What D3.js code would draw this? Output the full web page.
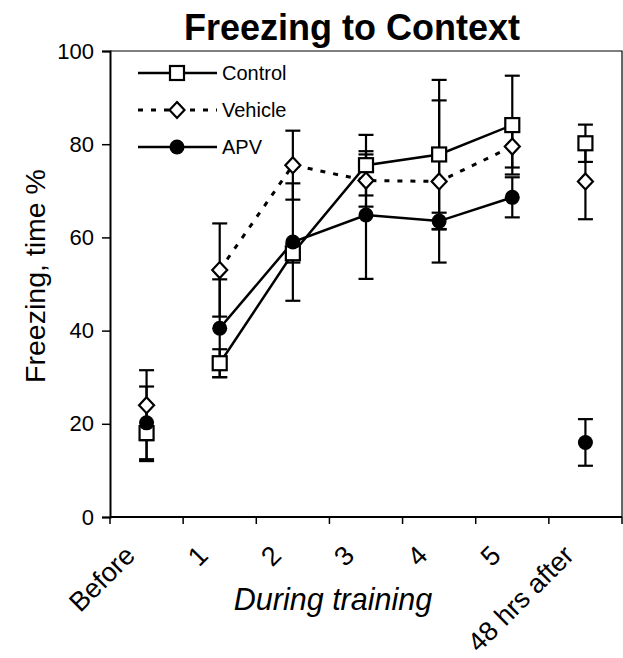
<!DOCTYPE html>
<html>
<head>
<meta charset="utf-8">
<script src="https://cdn.jsdelivr.net/npm/d3@7"></script>
<style>
  html, body { margin: 0; padding: 0; background: #fff; }
  svg text { font-family: "Liberation Sans", Arial, sans-serif; fill: #000; }
</style>
</head>
<body>
<svg id="chart" width="623" height="658"></svg>
<script>
const categories = ["Before", "1", "2", "3", "4", "5", "48 hrs after"];
const yTicks = [0, 20, 40, 60, 80, 100];

const controlMean = [18, 33, 56.6, 75.5, 77.8, 84.1, 80.2];
const controlErr = [6, 3, 2, 6.5, 16, 10.6, 4];
const vehicleMean = [24, 53, 75.5, 72.2, 72, 79.5, 72];
const vehicleErr = [7.5, 10, 7.4, 5.6, 17.4, 4.5, 8.1];
const apvMean = [20.2, 40.5, 59, 64.8, 63.5, 68.6, 16];
const apvErr = [7.8, 10.5, 12.6, 13.7, 1.8, 4.3, 5];

// only the training days are joined by lines
const trainingDays = ["1", "2", "3", "4", "5"];

const series = [
  { name: "Control", mean: controlMean, err: controlErr, symbol: "square", dash: null },
  { name: "Vehicle", mean: vehicleMean, err: vehicleErr, symbol: "diamond", dash: "5,8" },
  { name: "APV", mean: apvMean, err: apvErr, symbol: "circle", dash: null },
];

const svg = d3.select("#chart");
const margin = { top: 51, right: 1, bottom: 141, left: 110 };
const width = 623, height = 658;

const x = d3.scaleBand().domain(categories).range([margin.left, width - margin.right]);
const y = d3.scaleLinear().domain([0, 100]).range([height - margin.bottom, margin.top]);
const cx = (c) => x(c) + x.bandwidth() / 2;

// frame (top and right)
svg.append("path")
  .attr("d", `M${x.range()[0]},${y(100)}H${x.range()[1]}V${y(0)}`)
  .attr("fill", "none").attr("stroke", "#000").attr("stroke-width", 1.2);

// y axis
svg.append("g")
  .attr("transform", `translate(${margin.left},0)`)
  .call(d3.axisLeft(y).tickValues(yTicks).tickSize(8).tickPadding(8))
  .call((g) => g.select(".domain").attr("stroke-width", 2))
  .call((g) => g.selectAll(".tick line").attr("stroke-width", 1.5))
  .call((g) => g.selectAll("text").attr("font-size", 22).attr("font-family", "Liberation Sans, Arial, sans-serif"));

// x axis: ticks at category boundaries
const xAxis = svg.append("g").attr("transform", `translate(0,${y(0)})`);
xAxis.append("line")
  .attr("x1", x.range()[0]).attr("x2", x.range()[1])
  .attr("stroke", "#000").attr("stroke-width", 2);
const boundaries = categories.map((c) => x(c)).concat([x.range()[1]]);
xAxis.selectAll(".bt").data(boundaries).join("line")
  .attr("x1", (d) => d).attr("x2", (d) => d)
  .attr("y1", 0).attr("y2", 7)
  .attr("stroke", "#000").attr("stroke-width", 1.5);
xAxis.selectAll(".xl").data(categories).join("text")
  .attr("transform", (c) => `translate(${cx(c) - 10},${40}) rotate(-45)`)
  .attr("text-anchor", "end")
  .attr("font-size", 27)
  .text((c) => c);

// titles
svg.append("text")
  .attr("x", 352).attr("y", 40)
  .attr("text-anchor", "middle")
  .attr("font-size", 36).attr("font-weight", "bold")
  .text("Freezing to Context");

svg.append("text")
  .attr("transform", `translate(45,276) rotate(-90)`)
  .attr("text-anchor", "middle")
  .attr("font-size", 28.5)
  .text("Freezing, time %");

svg.append("text")
  .attr("x", 333).attr("y", 610)
  .attr("text-anchor", "middle")
  .attr("font-size", 30.5).attr("font-style", "italic")
  .text("During training");

// lines
const line = d3.line().x((d) => cx(d.c)).y((d) => y(d.v));
series.forEach((s) => {
  const pts = categories.map((c, i) => ({ c, v: s.mean[i] })).filter((d) => trainingDays.includes(d.c));
  svg.append("path")
    .datum(pts)
    .attr("d", line)
    .attr("fill", "none")
    .attr("stroke", "#000")
    .attr("stroke-width", s.dash ? 3 : 2.5)
    .attr("stroke-dasharray", s.dash);
});

// error bars
const capW = 7.5;
series.forEach((s) => {
  const g = svg.append("g").attr("stroke", "#000").attr("stroke-width", 2.2);
  categories.forEach((c, i) => {
    const x0 = cx(c), lo = y(s.mean[i] - s.err[i]), hi = y(s.mean[i] + s.err[i]);
    g.append("line").attr("x1", x0).attr("x2", x0).attr("y1", lo).attr("y2", hi);
    g.append("line").attr("x1", x0 - capW).attr("x2", x0 + capW).attr("y1", lo).attr("y2", lo);
    g.append("line").attr("x1", x0 - capW).attr("x2", x0 + capW).attr("y1", hi).attr("y2", hi);
  });
});

// markers
function drawMarker(g, symbol, px, py) {
  if (symbol === "square") {
    g.append("rect").attr("x", px - 7).attr("y", py - 7).attr("width", 14).attr("height", 14)
      .attr("fill", "#fff").attr("stroke", "#000").attr("stroke-width", 2.2);
  } else if (symbol === "diamond") {
    g.append("path").attr("d", `M${px},${py - 8}L${px + 7.5},${py}L${px},${py + 8}L${px - 7.5},${py}Z`)
      .attr("fill", "#fff").attr("stroke", "#000").attr("stroke-width", 2.2);
  } else {
    g.append("circle").attr("cx", px).attr("cy", py).attr("r", 7.5).attr("fill", "#000");
  }
}
series.forEach((s) => {
  const g = svg.append("g");
  categories.forEach((c, i) => drawMarker(g, s.symbol, cx(c), y(s.mean[i])));
});

// legend
const legend = svg.append("g");
series.forEach((s, i) => {
  const ly = 73 + i * 37;
  legend.append("line")
    .attr("x1", 138).attr("x2", 217).attr("y1", ly).attr("y2", ly)
    .attr("stroke", "#000").attr("stroke-width", s.dash ? 3 : 2.5)
    .attr("stroke-dasharray", s.dash);
  drawMarker(legend, s.symbol, 177, ly);
  legend.append("text")
    .attr("x", 222).attr("y", ly + 7)
    .attr("font-size", 20)
    .text(s.name);
});
</script>
</body>
</html>
